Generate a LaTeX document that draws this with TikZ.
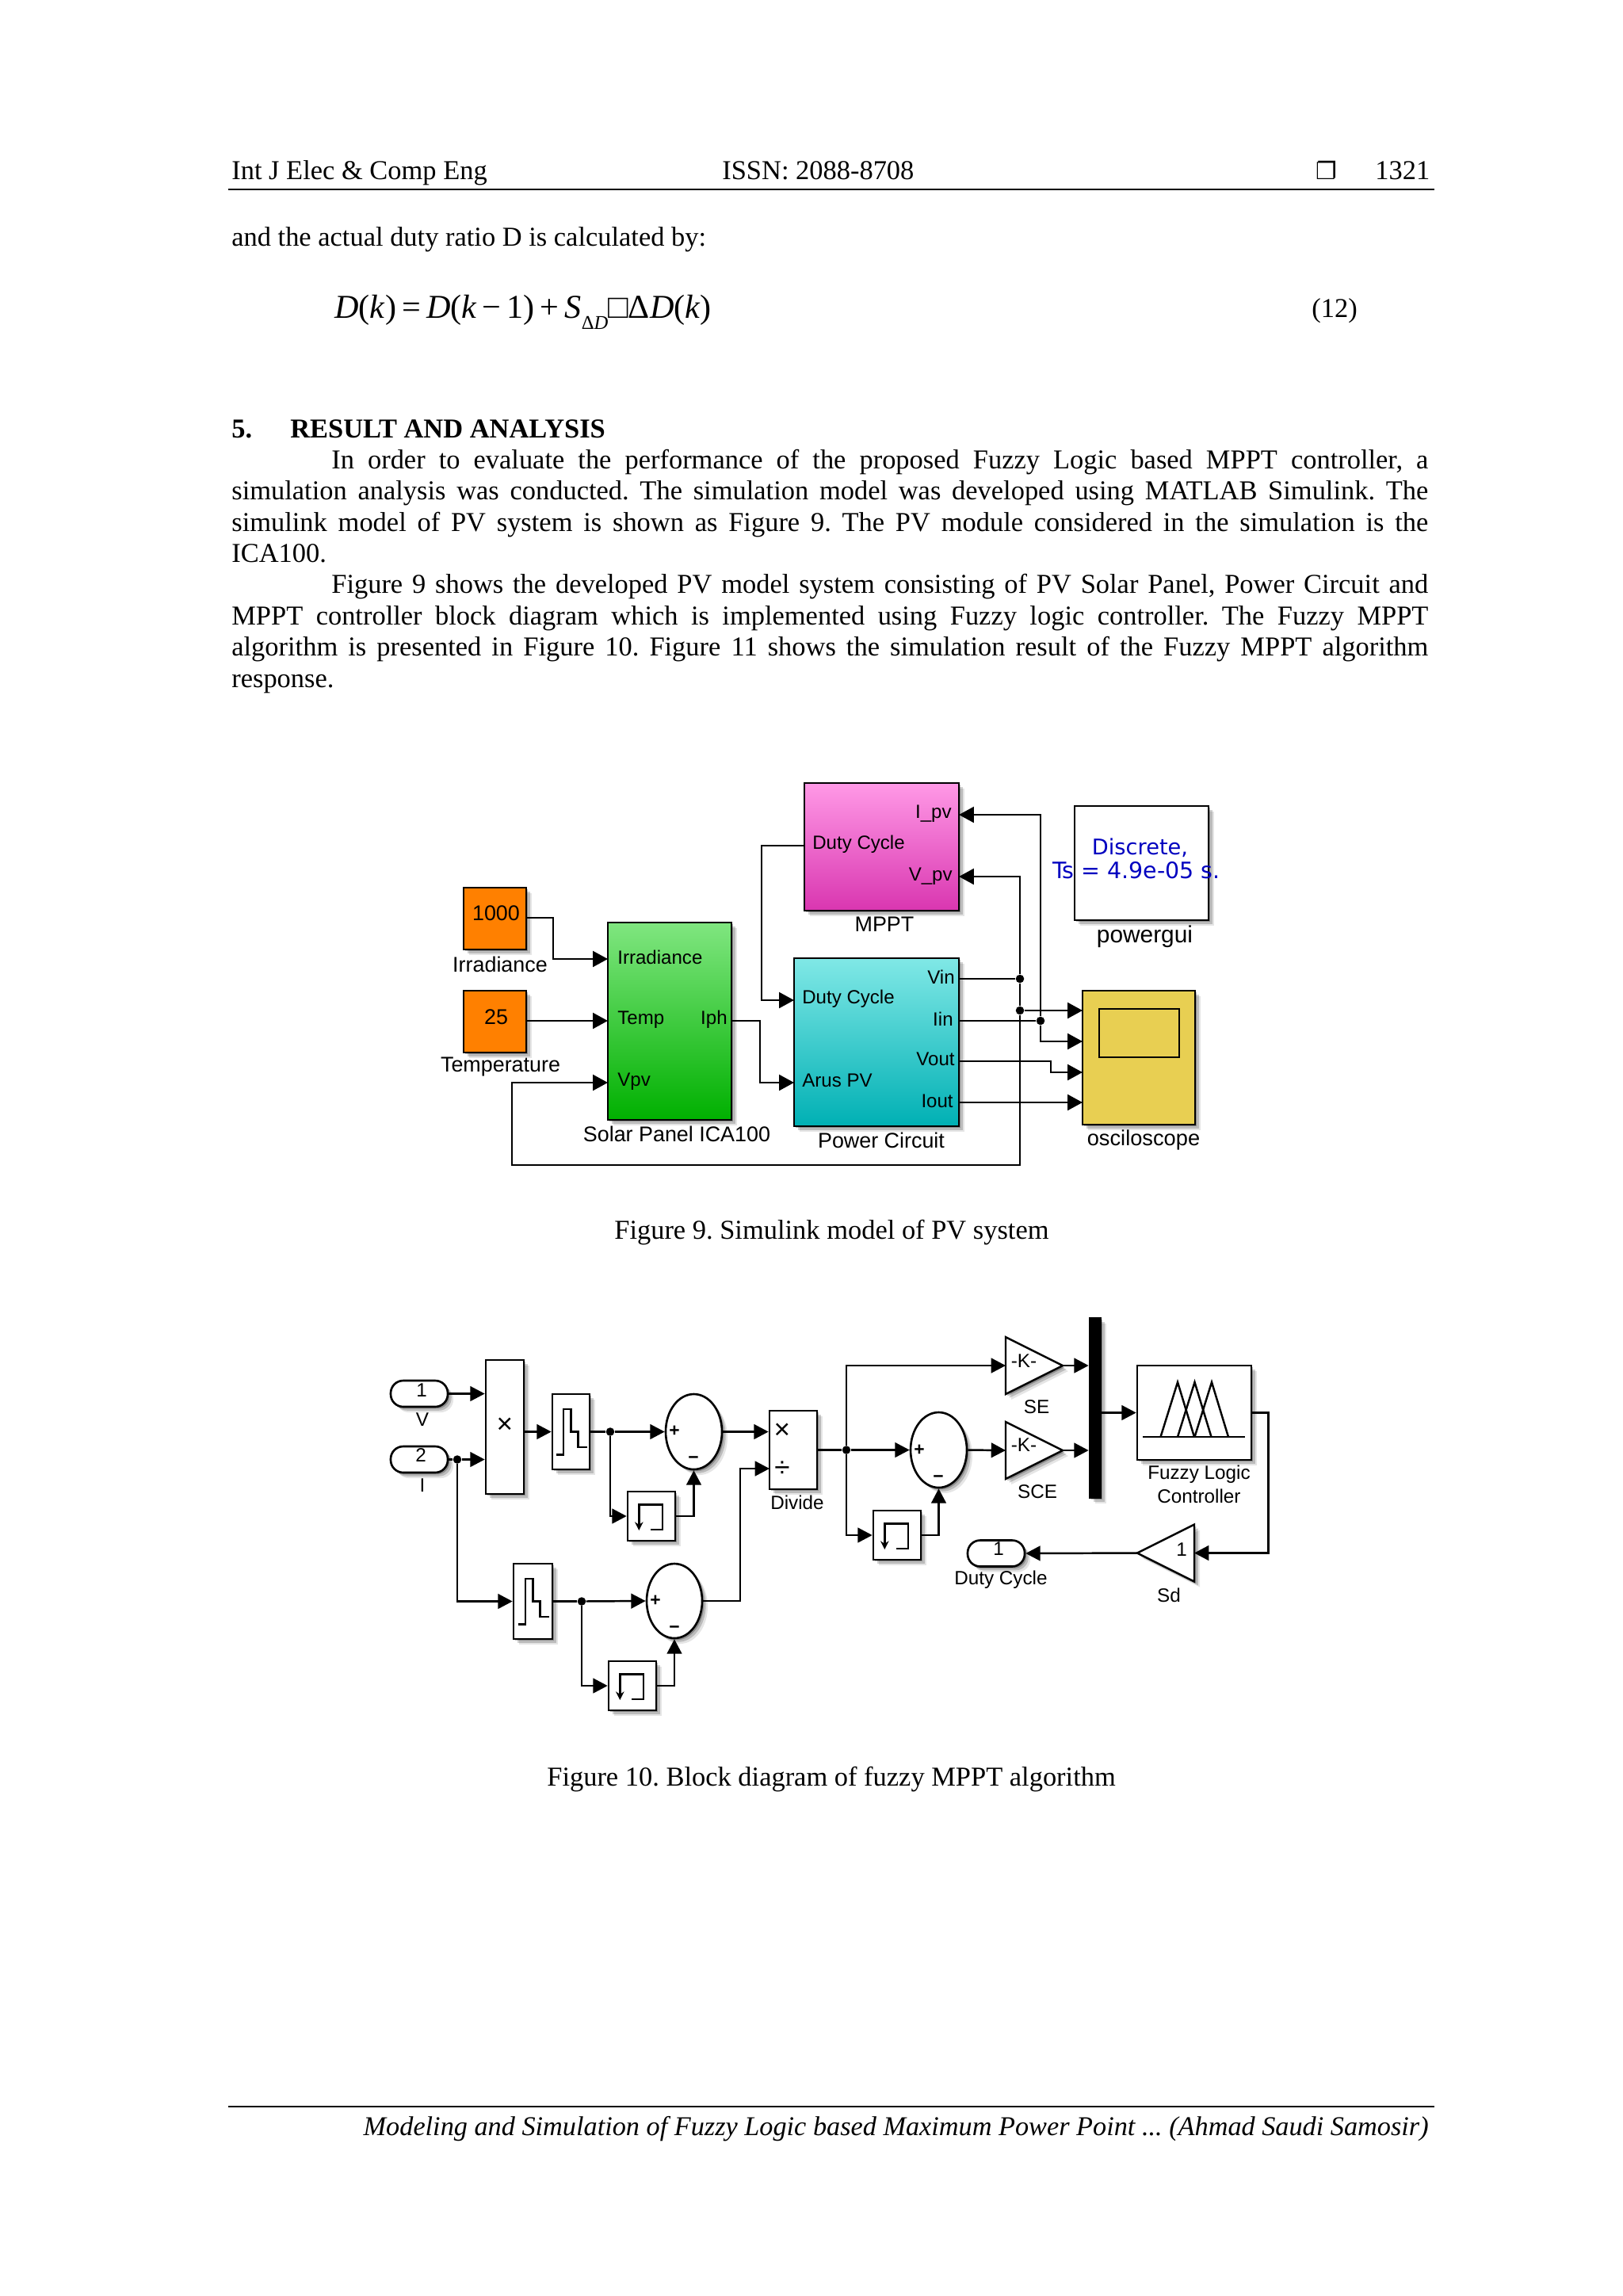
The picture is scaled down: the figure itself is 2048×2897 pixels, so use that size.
\documentclass[tikz,border=0pt]{standalone}
\usepackage{fontspec}
\setmainfont{Liberation Serif}
\setsansfont{Liberation Sans}
\newfontfamily\dejafont{DejaVu Sans}
\usetikzlibrary{shapes,positioning,calc,arrows.meta,shadows}
\definecolor{constorange}{HTML}{FF8000}
\definecolor{solartop}{HTML}{80E680}
\definecolor{solarbot}{HTML}{00B000}
\definecolor{mppttop}{HTML}{FF99E6}
\definecolor{mpptbot}{HTML}{D936B0}
\definecolor{powertop}{HTML}{80E8E6}
\definecolor{powerbot}{HTML}{00B0B4}
\definecolor{scopefill}{HTML}{E8CF52}
\definecolor{discblue}{HTML}{0000C0}

\begin{document}
\frenchspacing
\begin{tikzpicture}[
    x=0.2mm,y=-0.2mm,
    sz/.style 2 args={minimum width=#1*0.2mm,minimum height=#2*0.2mm},
    softshadow/.style={general shadow={shadow xshift=4pt,shadow yshift=-4pt,fill=black,opacity=.1},
        general shadow={shadow xshift=2.7pt,shadow yshift=-2.7pt,fill=black,opacity=.18},
        general shadow={shadow xshift=1.4pt,shadow yshift=-1.4pt,fill=black,opacity=.25}},
    bodytxt/.style={font=\fontsize{19.6}{22.45}\selectfont,inner sep=0pt,anchor=base west},
    lbla/.style={font=\sffamily\fontsize{15.3}{17}\selectfont,inner sep=0pt},
    lblb/.style={font=\sffamily\fontsize{13.8}{17}\selectfont,inner sep=0pt},
    portw/.style={font=\sffamily\fontsize{13.7}{16}\selectfont,inner sep=0pt,anchor=west},
    porte/.style={font=\sffamily\fontsize{13.7}{16}\selectfont,inner sep=0pt,anchor=east},
    block/.style={rectangle,draw,line width=1.5pt,inner sep=0pt,softshadow},
    plain/.style={block,fill=white},
    inport/.style={plain,rounded corners=9pt,sz={72}{33}},
    sumblk/.style={ellipse,draw,line width=1.5pt,inner sep=0pt,fill=white,softshadow},
    gain/.style={isosceles triangle,isosceles triangle stretches,draw,line width=1.4pt,inner sep=0pt,outer sep=0pt,
        fill=white,softshadow,sz={72}{72},anchor=apex},
    jdot/.style={circle,fill=black,inner sep=0pt,minimum size=6pt},
    line/.style={line width=1.6pt},
    arr/.style={line width=1.6pt,-{Triangle[length=10.8pt,width=11.3pt]}},
    arrb/.style={line width=1.4pt,-{Triangle[length=10.4pt,width=10.6pt]}},
    icon/.style={line width=1.4pt}
    ]
        \useasboundingbox (0,0) rectangle (2048,2897);
        \fill [white] (0,0) rectangle (2048,2897);

        % page text
        \node [bodytxt](head) at (292,226) {Int J Elec \& Comp Eng};
        \node [bodytxt](issn) at (911,226) {ISSN: 2088-8708};
        \node [bodytxt,font=\dejafont\fontsize{17}{20}\selectfont](box) at (1660,226) {❐};
        \node [bodytxt](page) at (1735,226) {1321};
        \coordinate (ruleL) at (288,239);
        \coordinate (ruleR) at (1810,239);
        \draw [line width=1.1pt] (ruleL) edge (ruleR);
        \node [bodytxt](intro) at (292,310) {and the actual duty ratio D is calculated by:};
        \node [bodytxt,font=\fontsize{24}{26}\selectfont](eqn) at (422,401) {\textit{D}(\textit{k})\,=\,\textit{D}(\textit{k}\,−\,1)\,+\,\textit{S}\raisebox{-.35em}{\fontsize{14}{14}\selectfont Δ\textit{D}}□Δ\textit{D}(\textit{k})};
        \node [bodytxt](eqnum) at (1655,400) {(12)};
        \node [bodytxt,font=\bfseries\fontsize{19.6}{22.45}\selectfont](secnum) at (292,552) {5.};
        \node [bodytxt,font=\bfseries\fontsize{19.6}{22.45}\selectfont](sectitle) at (366,552) {RESULT AND ANALYSIS};
        \node [bodytxt,anchor=north west,text width=302mm,align=justify](para) at (292,566.5) {\emergencystretch=2em
            \hspace*{25.2mm}In order to evaluate the performance of the proposed Fuzzy Logic based MPPT controller, a\linebreak
            simulation analysis was conducted. The simulation model was developed using MATLAB Simulink. The\linebreak
            simulink model of PV system is shown as Figure 9. The PV module considered in the simulation is the\linebreak
            ICA100.\par
            \hspace*{25.2mm}Figure 9 shows the developed PV model system consisting of PV Solar Panel, Power Circuit and\linebreak
            MPPT controller block diagram which is implemented using Fuzzy logic controller. The Fuzzy MPPT\linebreak
            algorithm is presented in Figure 10. Figure 11 shows the simulation result of the Fuzzy MPPT algorithm\linebreak
            response.};

        % Figure 9
        \node [block,fill=constorange,sz={79}{78}](irr) at (624.5,1159) {};
        \node [block,fill=constorange,sz={79}{78}](temp) at (624.5,1289) {};
        \node [block,top color=solartop,bottom color=solarbot,sz={156}{249}](solar) at (845,1288.5) {};
        \node [block,top color=mppttop,bottom color=mpptbot,sz={195}{161}](mppt) at (1112.5,1068.5) {};
        \node [block,top color=powertop,bottom color=powerbot,sz={208}{212}](power) at (1106,1315) {};
        \node [plain,sz={169}{144}](gui) at (1440.5,1089) {};
        \node [block,fill=scopefill,sz={142}{169}](scope) at (1437,1334.5) {};
        \node [draw,line width=1.5pt,inner sep=0pt,sz={101}{61}](screen) at (1437.5,1303.5) {};

        \node [lbla](irrval) at (626,1152) {1000};
        \node [lbla](tempval) at (626,1283) {25};
        \node [lbla](irrlbl) at (631,1217) {Irradiance};
        \node [lbla](templbl) at (631.5,1346) {Temperature};
        \node [lbla](solarlbl) at (854,1431) {Solar Panel ICA100};
        \node [lbla](powerlbl) at (1112,1439) {Power Circuit};
        \node [lbla](mpptlbl) at (1116,1166) {MPPT};
        \node [lbla,font=\sffamily\fontsize{17}{17}\selectfont](guilbl) at (1444.5,1182) {powergui};
        \node [lbla,font=\sffamily\fontsize{15.5}{17}\selectfont](scopelbl) at (1443,1438) {osciloscope};
        \node [lbla,font=\dejafont\fontsize{15.5}{17}\selectfont,text=discblue](disc) at (1438.5,1070) {Discrete,};
        \node [lbla,font=\dejafont\fontsize{16.2}{17}\selectfont,text=discblue](ts) at (1434,1098) {Ts = 4.9e-05 s.};

        \node [portw](solarItxt) at (779,1208) {Irradiance};
        \node [portw](solarTtxt) at (779,1286.5) {Temp};
        \node [portw](solarVtxt) at (779,1364.5) {Vpv};
        \node [porte](solarPtxt) at (918,1286) {Iph};
        \node [portw](mpptDtxt) at (1025,1065.5) {Duty Cycle};
        \node [porte](mpptItxt) at (1201,1026.5) {I\_pv};
        \node [porte](mpptVtxt) at (1202,1105.5) {V\_pv};
        \node [portw](powDtxt) at (1012,1260) {Duty Cycle};
        \node [portw](powAtxt) at (1012,1363) {Arus PV};
        \node [porte](powVitxt) at (1205,1233) {Vin};
        \node [porte](powIitxt) at (1203,1286) {Iin};
        \node [porte](powVotxt) at (1205,1336) {Vout};
        \node [porte](powIotxt) at (1203,1389) {Iout};

        \foreach \nm/\px/\py in {irrOut/664/1158,solarI/767/1210,solarT/767/1288,solarV/767/1366,solarP/923/1288,
            powD/1002/1262,powA/1002/1366,mpptD/1015/1067,mpptI/1210/1028,mpptV/1210/1106,
            powVi/1210/1235,powIi/1210/1288,powVo/1210/1339,powIo/1210/1391,
            scA/1366/1275,scB/1366/1314,scC/1366/1353,scD/1366/1391,
            fbk/646/1470,voBend/1326/1346}
            \coordinate (\nm) at (\px,\py);
        \node [jdot](j1) at (1287,1235) {};
        \node [jdot](j2) at (1287,1275) {};
        \node [jdot](j3) at (1313,1288) {};

        \draw [arr] (irrOut) -- ++(34,0) |- (solarI);
        \draw [arr] (temp.east |- solarT) -- (solarT);
        \draw [arr] (solarP) -- ++(36,0) |- (powA);
        \draw [arr] (mpptD) -- ++(-54,0) |- (powD);
        \draw [line] (powVi) edge (j1);
        \draw [line] (powIi) edge (j3);
        \draw [line] (j1) edge (j2);
        \draw [arr] (j1) |- (mpptV);
        \draw [arr] (j2) |- (fbk) |- (solarV);
        \draw [arr] (j3) |- (mpptI);
        \draw [arr] (j3) |- (scB);
        \draw [arr] (j2) -- (scA);
        \draw [arr] (powVo) -| (voBend) |- (scC);
        \draw [arr] (powIo) -- (scD);

        \node [bodytxt](cap9) at (775,1563) {Figure 9. Simulink model of PV system};

        % Figure 10
        \node [inport](inV) at (529,1758.5) {};
        \node [inport](inI) at (529,1841.5) {};
        \node [plain,sz={48}{169}](prod) at (637,1800.5) {};
        \node [plain,sz={47}{95}](quantA) at (720.5,1806.5) {};
        \node [plain,sz={49}{95}](quantB) at (672.5,2020.5) {};
        \node [sumblk,sz={71}{95}](sumA) at (875.5,1806.5) {};
        \node [sumblk,sz={70}{94}](sumB) at (851,2020) {};
        \node [sumblk,sz={71}{95}](sumC) at (1184.5,1829.5) {};
        \node [plain,sz={60}{62}](memA) at (822,1913) {};
        \node [plain,sz={60}{62}](memB) at (798,2127) {};
        \node [plain,sz={60}{62}](memC) at (1132,1937) {};
        \node [plain,sz={60}{99}](divd) at (1001,1829.5) {};
        \node [gain](seGain) at (1341,1723) {};
        \node [gain](sceGain) at (1341,1830) {};
        \node [block,fill=black,sz={14}{227}](mux) at (1382,1776.5) {};
        \node [plain,sz={144}{119}](fuzzy) at (1507,1782.5) {};
        \node [gain,shape border rotate=180](sd) at (1435,1959.5) {};
        \node [inport](outD) at (1257,1960) {};

        \node [lblb](inVnum) at (532,1754) {1};
        \node [lblb](inInum) at (531,1836) {2};
        \node [lblb](inVlbl) at (533,1791) {V};
        \node [lblb](inIlbl) at (533,1874) {I};
        \node [lbla,font=\sffamily\fontsize{20}{20}\selectfont](prodsym) at (637,1799) {×};
        \node [lbla,font=\sffamily\fontsize{20}{20}\selectfont](divmul) at (987,1806) {×};
        \node [lbla,font=\sffamily\fontsize{20}{20}\selectfont](divdiv) at (987,1854) {÷};
        \node [lblb](divlbl) at (1006,1896) {Divide};
        \foreach \pl/\plx/\ply/\mix/\miy in {pa/851/1806/875/1842,pb/827/2020/851/2056,pc/1160/1830/1184/1866} {
            \node [lblb,font=\sffamily\bfseries\fontsize{13}{13}\selectfont](\pl p) at (\plx,\ply) {+};
            \node [lblb,font=\sffamily\bfseries\fontsize{13}{13}\selectfont](\pl m) at (\mix,\miy) {−};
        }
        \node [lblb](seK) at (1292,1717) {-K-};
        \node [lblb](sceK) at (1292,1823) {-K-};
        \node [lblb](selbl) at (1308,1775) {SE};
        \node [lblb](scelbl) at (1309,1882) {SCE};
        \node [lblb,align=center](fuzzylbl) at (1513,1873) {Fuzzy Logic\\Controller};
        \node [lblb](sdnum) at (1491,1955) {1};
        \node [lblb](sdlbl) at (1475,2013) {Sd};
        \node [lblb](outnum) at (1260,1954) {1};
        \node [lblb](outlbl) at (1263,1993) {Duty Cycle};

        \foreach \q in {quantA,quantB}
            \draw [icon,shift={(\q.center)}] (-19,29) -- (-9.4,29) -- (-9.4,-28.6) -- (0,-28.6) -- (0,0) -- (9,0) -- (9,19.6) -- (20,19.6);
        \foreach \q in {memA,memB,memC}
            \draw [icon,-{Stealth[length=6pt,width=6pt]},shift={(\q.center)}] (-0.8,16.8) -- (13.8,16.8) -- (13.8,-14.3) -- (-15.7,-14.3) -- (-15.7,17.9);
        \draw [icon,shift={(fuzzy.center)}] (-65,30.5) -- (64,30.5);
        \foreach \s in {0,21.5,43}
            \draw [icon,shift={(fuzzy.center)}] (-42.5+\s,30.5) -- (-21+\s,-38.5) -- (0+\s,30.5);

        \coordinate (divB) at (971,1853);
        \coordinate (divBend) at (934,1853);
        \node [jdot](jI) at (577,1841.5) {};
        \node [jdot](jA) at (770,1806.5) {};
        \node [jdot](jB) at (734,2020.5) {};
        \node [jdot](jC) at (1068,1829.5) {};

        \draw [arrb] (inV.east) -- (inV.east -| prod.west);
        \draw [line] (inI.east) edge (jI);
        \draw [arrb] (jI) -- (jI -| prod.west);
        \draw [arrb] (quantA.west -| prod.east) -- (quantA.west);
        \draw [line] (quantA.east) edge (jA);
        \draw [arrb] (jA) -- (sumA.west);
        \draw [arrb] (jA) |- (memA.west);
        \draw [arrb] (memA.east) -| (sumA.south);
        \draw [arrb] (sumA.east) -- (sumA.east -| divd.west);
        \draw [arrb] (jI) |- (quantB.west);
        \draw [line] (quantB.east) edge (jB);
        \draw [arrb] (jB) -- (sumB.west);
        \draw [arrb] (jB) |- (memB.west);
        \draw [arrb] (memB.east) -| (sumB.south);
        \draw [arrb] (sumB.east) -| (divBend) -- (divB);
        \draw [line] (divd.east) edge (jC);
        \draw [arrb] (jC) -- (sumC.west);
        \draw [arrb] (jC) |- (seGain.lower side);
        \draw [arrb] (jC) |- (memC.west);
        \draw [arrb] (memC.east) -| (sumC.south);
        \draw [arrb] (sumC.east) -- (sceGain.lower side);
        \draw [arrb] (seGain.apex) -- (seGain.apex -| mux.west);
        \draw [arrb] (sceGain.apex) -- (sceGain.apex -| mux.west);
        \draw [arrb] (fuzzy.west -| mux.east) -- (fuzzy.west);
        \draw [arrb] (fuzzy.east) -- ++(20,0) |- (sd.lower side);
        \draw [arrb] (sd.apex) -- (outD.east);

        \node [bodytxt](cap10) at (690,2253) {Figure 10. Block diagram of fuzzy MPPT algorithm};

        % footer
        \coordinate (footL) at (288,2658);
        \coordinate (footR) at (1810,2658);
        \draw [line width=1.1pt] (footL) edge (footR);
        \node [bodytxt,anchor=base east,font=\itshape\fontsize{19.5}{22.45}\selectfont](foot) at (1803,2694) {Modeling and Simulation of Fuzzy Logic based Maximum Power Point ... (Ahmad Saudi Samosir)};
\end{tikzpicture}
\end{document}
